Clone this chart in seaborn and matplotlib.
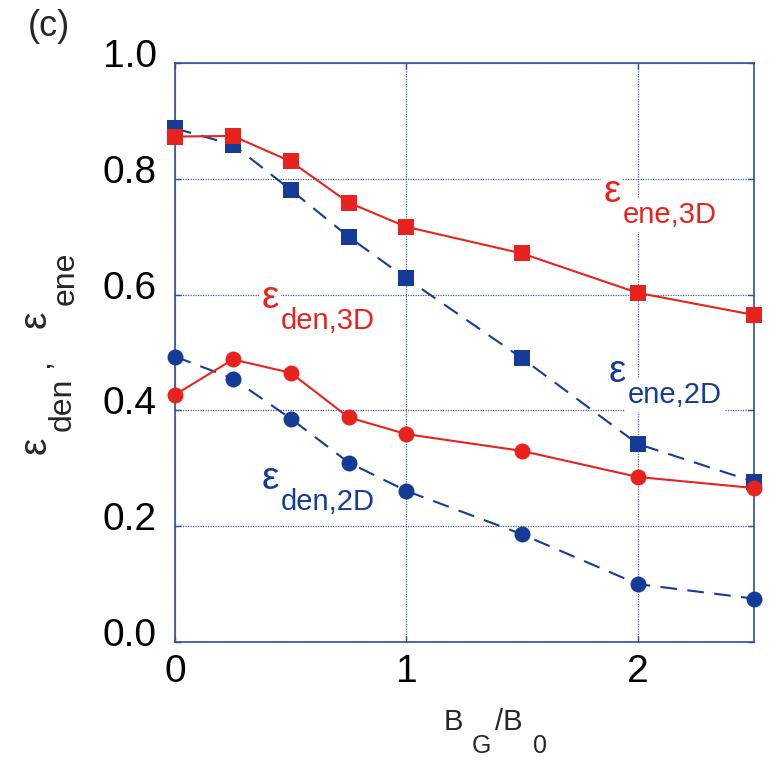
import matplotlib
matplotlib.use("Agg")
import matplotlib.pyplot as plt
import matplotlib.transforms as mtransforms
import seaborn as sns
import pandas as pd

# Guide-field ratio B_G/B_0
bg_ratio = [0.0, 0.25, 0.5, 0.75, 1.0, 1.5, 2.0, 2.5]

# Efficiencies
eps_ene_3d = [0.873, 0.874, 0.830, 0.759, 0.717, 0.671, 0.603, 0.565]
eps_ene_2d = [0.887, 0.859, 0.781, 0.700, 0.628, 0.490, 0.342, 0.277]
eps_den_3d = [0.427, 0.488, 0.465, 0.388, 0.359, 0.330, 0.285, 0.266]
eps_den_2d = [0.493, 0.455, 0.386, 0.310, 0.261, 0.186, 0.100, 0.075]

x_ticks = [0, 1, 2]
y_ticks = [0.0, 0.2, 0.4, 0.6, 0.8, 1.0]

RED = "#E8231E"
BLUE = "#143C96"
FRAME = "#2F4FA0"
FONT = "Liberation Sans"
W, H = 772, 761

sns.set_theme(style="white")
plt.rcParams["font.family"] = [FONT, "DejaVu Sans"]

fig = plt.figure(figsize=(W / 100, H / 100), dpi=100)
ax = fig.add_axes([175 / W, 1 - 642 / H, (753.5 - 175) / W, (642 - 63) / H])

df = pd.DataFrame({
    "bg": bg_ratio,
    "ene3d": eps_ene_3d,
    "ene2d": eps_ene_2d,
    "den3d": eps_den_3d,
    "den2d": eps_den_2d,
})

dash = (0, (8, 5))
common = dict(ax=ax, lw=1.5, markeredgewidth=0, clip_on=False)
sns.lineplot(data=df, x="bg", y="ene2d", color=BLUE, linestyle=dash,
             marker="s", markersize=12, zorder=3, **common)
sns.lineplot(data=df, x="bg", y="den2d", color=BLUE, linestyle=dash,
             marker="o", markersize=11.5, zorder=3, **common)
sns.lineplot(data=df, x="bg", y="ene3d", color=RED, linestyle="-",
             marker="s", markersize=12, zorder=4, **common)
sns.lineplot(data=df, x="bg", y="den3d", color=RED, linestyle="-",
             marker="o", markersize=11.5, zorder=4, **common)

ax.set_xlim(0, 2.5)
ax.set_ylim(0, 1.0)
ax.set_xticks(x_ticks)
ax.set_yticks(y_ticks)
ax.set_xticklabels([str(t) for t in x_ticks])
ax.set_yticklabels([f"{t:.1f}" for t in y_ticks])
ax.tick_params(axis="both", direction="in", length=4, width=1, color=FRAME,
               labelsize=28, labelcolor="black",
               top=True, right=True, bottom=True, left=True)
ax.tick_params(axis="y", pad=13)
ax.tick_params(axis="x", pad=9)
# y tick labels sit slightly above their gridlines
shift = mtransforms.ScaledTranslation(0, 0.10, fig.dpi_scale_trans)
for lab in ax.get_yticklabels():
    lab.set_transform(lab.get_transform() + shift)

ax.grid(True, linestyle=(0, (1, 1)), color=FRAME, lw=0.9, alpha=0.9)
ax.set_axisbelow(True)
for s in ax.spines.values():
    s.set_color(FRAME)
    s.set_linewidth(1.2)
ax.set_xlabel("")
ax.set_ylabel("")

# Curve labels: epsilon plus subscript, on white patches over the grid
box = dict(facecolor="white", edgecolor="none", pad=2)


def px(x, y):
    return x / W, 1 - y / H


def eps_label(x_px, y_px, sub, color):
    fig.text(*px(x_px, y_px), "ε", color=color, fontsize=28,
             ha="center", va="center", bbox=box, zorder=5)
    fig.text(*px(x_px + 11, y_px + 23), sub, color=color, fontsize=21,
             ha="left", va="center", bbox=box, zorder=5)


eps_label(612, 192, "ene,3D", RED)
eps_label(270, 298, "den,3D", RED)
eps_label(617, 372, "ene,2D", BLUE)
eps_label(270, 479, "den,2D", BLUE)

# Panel tag
fig.text(*px(49, 26), "(c)", fontsize=26, ha="center", va="center")

# x-axis label B_G/B_0
fig.text(*px(453, 722), "B", fontsize=21, ha="center", va="center")
fig.text(*px(481, 746), "G", fontsize=18, ha="center", va="center")
fig.text(*px(509, 722), "/B", fontsize=21, ha="center", va="center")
fig.text(*px(540, 746), "0", fontsize=18, ha="center", va="center")

# y-axis label: eps_den, eps_ene (rotated)
fig.text(*px(36, 445), "ε", fontsize=28, rotation=90, ha="center", va="center")
fig.text(*px(63, 404), "den", fontsize=23, rotation=90, ha="center", va="center")
fig.text(*px(40, 364), ",", fontsize=23, rotation=90, ha="center", va="center")
fig.text(*px(36, 319), "ε", fontsize=28, rotation=90, ha="center", va="center")
fig.text(*px(66, 278), "ene", fontsize=23, rotation=90, ha="center", va="center")

fig.savefig("out.png", dpi=100)
